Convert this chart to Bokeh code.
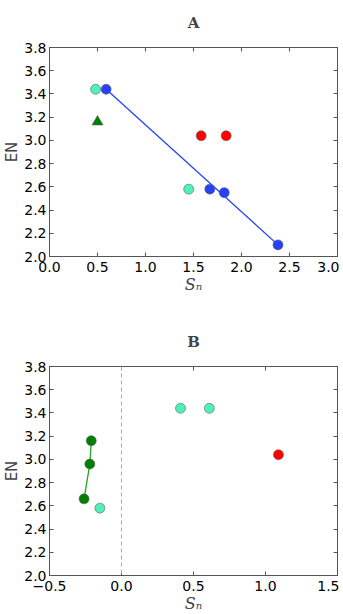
from bokeh.plotting import figure
from bokeh.models import LinearAxis, FixedTicker, Range1d, Span
from bokeh.layouts import column
from bokeh.embed import file_html
from bokeh.resources import INLINE

# ---- Panel A data ----
a_cyan_x = [0.48, 1.45]
a_cyan_y = [3.44, 2.58]
a_blue_x = [0.59, 1.67, 1.82, 2.38]
a_blue_y = [3.44, 2.58, 2.55, 2.10]
a_red_x = [1.58, 1.84]
a_red_y = [3.04, 3.04]
a_tri_x = [0.50]
a_tri_y = [3.16]
a_fit_x = [0.59, 2.38]
a_fit_y = [3.44, 2.10]

# ---- Panel B data ----
b_green_x = [-0.21, -0.22, -0.26]
b_green_y = [3.16, 2.96, 2.66]
b_cyan_x = [-0.15, 0.41, 0.61]
b_cyan_y = [2.58, 3.44, 3.44]
b_red_x = [1.09]
b_red_y = [3.04]

y_ticks = [2.0, 2.2, 2.4, 2.6, 2.8, 3.0, 3.2, 3.4, 3.6, 3.8]
a_x_ticks = [0.0, 0.5, 1.0, 1.5, 2.0, 2.5, 3.0]
b_x_ticks = [-0.5, 0.0, 0.5, 1.0, 1.5]

BLUE = "#2442fa"
CYAN = "#50f0b8"
RED = "#ff0000"
GREEN = "#008000"
LGREEN = "#20a820"
EDGE = "#606060"
AXC = "#555555"


def fmt(v):
    s = "%.1f" % v
    return s.replace("-", "\u2212")


def make_fig(title, xr, xticks, bottom):
    p = figure(frame_width=288, frame_height=209, output_backend="svg", toolbar_location=None,
               x_range=Range1d(*xr), y_range=Range1d(2.0, 3.8),
               min_border_left=35, min_border_right=2, min_border_top=0,
               min_border_bottom=bottom, title=title)
    p.title.align = "center"
    p.title.vertical_align = "top"
    p.title.text_font = "DejaVu Serif"
    p.title.text_font_style = "bold"
    p.title.text_font_size = "15px"
    p.title.standoff = 27
    p.xgrid.visible = False
    p.ygrid.visible = False
    p.outline_line_color = AXC
    p.outline_line_width = 1
    p.xaxis.ticker = FixedTicker(ticks=xticks)
    p.yaxis.ticker = FixedTicker(ticks=y_ticks)
    p.xaxis.major_label_overrides = {v: fmt(v) for v in xticks}
    p.yaxis.major_label_overrides = {v: fmt(v) for v in y_ticks}
    for ax in (p.xaxis[0], p.yaxis[0]):
        ax.major_tick_in = 4
        ax.major_tick_out = 0
        ax.minor_tick_line_color = None
        ax.axis_line_color = AXC
        ax.major_tick_line_color = AXC
        ax.major_label_text_font = "DejaVu Sans"
        ax.major_label_text_font_size = "14px"
        ax.major_label_text_color = "black"
    p.yaxis.major_label_standoff = 3
    p.xaxis.major_label_standoff = 5
    p.yaxis.axis_label = "EN"
    p.yaxis.axis_label_text_font = "DejaVu Sans"
    p.yaxis.axis_label_text_font_size = "15px"
    p.yaxis.axis_label_text_font_style = "normal"
    p.yaxis.axis_label_standoff = 0
    p.xaxis.axis_label = "S\u2099"
    p.xaxis.axis_label_text_font = "DejaVu Serif"
    p.xaxis.axis_label_text_font_size = "16px"
    p.xaxis.axis_label_text_font_style = "italic"
    p.xaxis.axis_label_standoff = 0
    # mirrored ticks on top and right
    for loc, tk in (("right", y_ticks), ("above", xticks)):
        ax = LinearAxis(ticker=FixedTicker(ticks=tk))
        ax.major_label_overrides = {v: "" for v in tk}
        ax.major_tick_in = 4
        ax.major_tick_out = 0
        ax.minor_tick_line_color = None
        ax.axis_line_color = AXC
        ax.major_tick_line_color = AXC
        ax.major_label_standoff = 0
        p.add_layout(ax, loc)
    return p


p1 = make_fig("A", (0.0, 3.0), a_x_ticks, 63)
p1.line(a_fit_x, a_fit_y, line_color=BLUE, line_width=1.3)
p1.scatter(a_cyan_x, a_cyan_y, size=10, fill_color=CYAN, line_color=EDGE, line_width=0.6)
p1.scatter(a_blue_x, a_blue_y, size=10, fill_color=BLUE, line_color=EDGE, line_width=0.6)
p1.scatter(a_red_x, a_red_y, size=10, fill_color=RED, line_color=EDGE, line_width=0.6)
p1.scatter(a_tri_x, a_tri_y, marker="triangle", size=11, fill_color=GREEN, line_color=EDGE, line_width=0.6)

p2 = make_fig("B", (-0.5, 1.5), b_x_ticks, 39)
p2.add_layout(Span(location=0.0, dimension="height", line_color="#aaaaaa",
                   line_dash="4 3", line_width=1))
p2.line(b_green_x, b_green_y, line_color=LGREEN, line_width=1.3)
p2.scatter(b_green_x, b_green_y, size=10, fill_color=GREEN, line_color=EDGE, line_width=0.6)
p2.scatter(b_cyan_x, b_cyan_y, size=10, fill_color=CYAN, line_color=EDGE, line_width=0.6)
p2.scatter(b_red_x, b_red_y, size=10, fill_color=RED, line_color=EDGE, line_width=0.6)

layout = column(p1, p2, spacing=0)
open("out.html", "w").write(file_html(layout, INLINE))
